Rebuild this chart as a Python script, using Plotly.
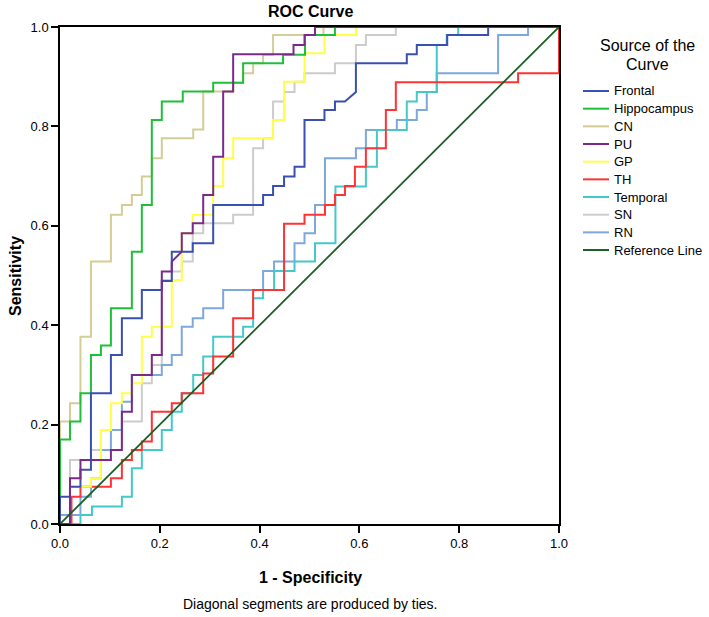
import plotly.graph_objects as go

# ---------------- DATA (1 - Specificity, Sensitivity) ----------------
series_names = ["Frontal", "Hippocampus", "CN", "PU", "GP", "TH", "Temporal", "SN", "RN"]

frontal_fpr = [0, 0, 0.02, 0.02, 0.041, 0.041, 0.062, 0.062, 0.102, 0.102, 0.124, 0.124, 0.164, 0.164,
               0.204, 0.204, 0.224, 0.224, 0.266, 0.266, 0.307, 0.307, 0.407, 0.407, 0.427, 0.427, 0.449,
               0.449, 0.47, 0.47, 0.49, 0.49, 0.53, 0.53, 0.551, 0.551, 0.571, 0.593, 0.593, 0.695, 0.695,
               0.715, 0.715, 0.776, 0.776, 0.858, 0.858, 1]
frontal_tpr = [0, 0.055, 0.055, 0.075, 0.075, 0.109, 0.109, 0.263, 0.263, 0.34, 0.34, 0.414, 0.414, 0.471,
               0.471, 0.489, 0.489, 0.548, 0.548, 0.565, 0.565, 0.642, 0.642, 0.662, 0.662, 0.68, 0.68,
               0.699, 0.699, 0.719, 0.719, 0.813, 0.813, 0.833, 0.833, 0.85, 0.85, 0.869, 0.927, 0.927, 0.945,
               0.945, 0.964, 0.964, 0.984, 0.984, 1, 1]

hippo_fpr = [0, 0, 0.02, 0.02, 0.041, 0.041, 0.062, 0.062, 0.082, 0.082, 0.102, 0.102, 0.144, 0.144, 0.164,
             0.164, 0.184, 0.184, 0.204, 0.204, 0.246, 0.246, 0.307, 0.307, 0.367, 0.367, 0.447, 0.447,
             0.491, 0.491, 0.551, 0.551, 1]
hippo_tpr = [0, 0.17, 0.17, 0.206, 0.206, 0.263, 0.263, 0.34, 0.34, 0.359, 0.359, 0.434, 0.434, 0.548, 0.548,
             0.642, 0.642, 0.813, 0.813, 0.85, 0.85, 0.87, 0.87, 0.888, 0.888, 0.927, 0.927, 0.944,
             0.944, 0.984, 0.984, 1, 1]

cn_fpr = [0, 0, 0.02, 0.02, 0.041, 0.041, 0.062, 0.062, 0.102, 0.102, 0.124, 0.124, 0.144, 0.144, 0.164, 0.164,
          0.184, 0.184, 0.204, 0.204, 0.267, 0.267, 0.287, 0.287, 0.347, 0.347, 0.367, 0.367, 0.387, 0.387,
          0.407, 0.407, 0.427, 0.427, 0.528, 0.528, 1]
cn_tpr = [0, 0.206, 0.206, 0.243, 0.243, 0.377, 0.377, 0.528, 0.528, 0.622, 0.622, 0.642, 0.642, 0.662, 0.662,
          0.699, 0.699, 0.736, 0.736, 0.776, 0.776, 0.794, 0.794, 0.87, 0.87, 0.888, 0.888, 0.907, 0.907, 0.927,
          0.927, 0.944, 0.944, 0.984, 0.984, 1, 1]

pu_fpr = [0, 0.02, 0.02, 0.041, 0.041, 0.102, 0.102, 0.124, 0.124, 0.144, 0.144, 0.184, 0.184, 0.204, 0.204,
          0.224, 0.224, 0.244, 0.244, 0.266, 0.266, 0.287, 0.287, 0.307, 0.307, 0.327, 0.327, 0.347, 0.347,
          0.468, 0.468, 0.49, 0.49, 0.511, 0.511, 1]
pu_tpr = [0, 0, 0.092, 0.092, 0.129, 0.129, 0.149, 0.149, 0.226, 0.226, 0.30, 0.30, 0.34, 0.34, 0.508,
          0.508, 0.528, 0.548, 0.585, 0.585, 0.605, 0.605, 0.662, 0.662, 0.739, 0.739, 0.87, 0.87, 0.945,
          0.945, 0.964, 0.964, 0.984, 0.984, 1, 1]

gp_fpr = [0, 0.02, 0.02, 0.062, 0.062, 0.082, 0.082, 0.102, 0.102, 0.124, 0.124, 0.144, 0.144, 0.164, 0.164,
          0.184, 0.184, 0.224, 0.224, 0.244, 0.244, 0.266, 0.266, 0.307, 0.307, 0.327, 0.327, 0.347, 0.347,
          0.427, 0.427, 0.449, 0.449, 0.49, 0.49, 0.53, 0.53, 0.593, 0.593, 1]
gp_tpr = [0, 0, 0.075, 0.075, 0.092, 0.092, 0.189, 0.189, 0.243, 0.243, 0.263, 0.263, 0.283, 0.283, 0.377,
          0.377, 0.397, 0.397, 0.491, 0.491, 0.585, 0.585, 0.622, 0.622, 0.68, 0.68, 0.736, 0.736, 0.776,
          0.776, 0.813, 0.813, 0.89, 0.89, 0.947, 0.947, 0.984, 0.984, 1, 1]

th_fpr = [0, 0.023, 0.023, 0.041, 0.041, 0.102, 0.102, 0.124, 0.124, 0.144, 0.144, 0.164, 0.164, 0.184, 0.184,
          0.224, 0.224, 0.244, 0.244, 0.287, 0.287, 0.307, 0.307, 0.347, 0.347, 0.387, 0.387, 0.449, 0.449,
          0.49, 0.49, 0.531, 0.531, 0.551, 0.551, 0.571, 0.571, 0.591, 0.591, 0.613, 0.613, 0.653, 0.653,
          0.673, 0.673, 0.918, 0.918, 1, 1]
th_tpr = [0, 0, 0.055, 0.055, 0.075, 0.075, 0.092, 0.092, 0.129, 0.129, 0.149, 0.149, 0.166, 0.166, 0.226,
          0.226, 0.243, 0.243, 0.263, 0.263, 0.303, 0.303, 0.337, 0.337, 0.414, 0.414, 0.471, 0.471, 0.604,
          0.604, 0.622, 0.622, 0.642, 0.642, 0.662, 0.662, 0.68, 0.68, 0.719, 0.719, 0.756, 0.756, 0.833,
          0.833, 0.889, 0.889, 0.907, 0.907, 1]

temporal_fpr = [0, 0.041, 0.041, 0.064, 0.064, 0.124, 0.124, 0.144, 0.144, 0.164, 0.164, 0.204, 0.204, 0.224,
                0.224, 0.244, 0.244, 0.267, 0.267, 0.287, 0.287, 0.307, 0.307, 0.367, 0.367, 0.387, 0.387,
                0.407, 0.407, 0.429, 0.429, 0.47, 0.47, 0.511, 0.511, 0.552, 0.552, 0.613, 0.613, 0.635,
                0.635, 0.695, 0.695, 0.715, 0.715, 0.755, 0.755, 0.775, 0.775, 0.798, 0.798, 1]
temporal_tpr = [0, 0, 0.018, 0.018, 0.035, 0.035, 0.055, 0.055, 0.112, 0.112, 0.149, 0.149, 0.189, 0.189,
                0.226, 0.226, 0.263, 0.263, 0.30, 0.30, 0.337, 0.337, 0.377, 0.377, 0.397, 0.397, 0.454,
                0.454, 0.471, 0.471, 0.509, 0.509, 0.528, 0.528, 0.565, 0.565, 0.679, 0.679, 0.719, 0.719,
                0.793, 0.793, 0.85, 0.85, 0.869, 0.869, 0.964, 0.964, 0.984, 0.984, 1, 1]

sn_fpr = [0, 0.02, 0.02, 0.062, 0.062, 0.124, 0.124, 0.164, 0.164, 0.184, 0.184, 0.204, 0.204, 0.224, 0.224,
          0.244, 0.244, 0.266, 0.266, 0.287, 0.287, 0.347, 0.347, 0.387, 0.387, 0.407, 0.407, 0.427, 0.427,
          0.449, 0.449, 0.47, 0.47, 0.49, 0.49, 0.551, 0.551, 0.593, 0.593, 0.613, 0.613, 0.673, 0.673, 1]
sn_tpr = [0, 0, 0.129, 0.129, 0.149, 0.149, 0.206, 0.206, 0.283, 0.283, 0.32, 0.32, 0.491, 0.491, 0.508,
          0.508, 0.528, 0.528, 0.585, 0.585, 0.605, 0.605, 0.622, 0.622, 0.756, 0.756, 0.776, 0.776, 0.85,
          0.85, 0.869, 0.869, 0.89, 0.89, 0.907, 0.907, 0.927, 0.927, 0.964, 0.964, 0.984, 0.984, 1, 1]

rn_fpr = [0, 0, 0.041, 0.041, 0.062, 0.062, 0.082, 0.082, 0.102, 0.102, 0.124, 0.124, 0.144, 0.144, 0.204,
          0.204, 0.224, 0.224, 0.244, 0.244, 0.266, 0.266, 0.287, 0.287, 0.327, 0.327, 0.407, 0.407, 0.429,
          0.429, 0.47, 0.47, 0.49, 0.49, 0.511, 0.511, 0.531, 0.531, 0.593, 0.593, 0.613, 0.613, 0.675,
          0.675, 0.715, 0.715, 0.735, 0.735, 0.755, 0.755, 0.878, 0.878, 0.938, 0.938, 1]
rn_tpr = [0, 0.018, 0.018, 0.055, 0.055, 0.092, 0.092, 0.149, 0.149, 0.189, 0.189, 0.246, 0.246, 0.30, 0.30,
          0.32, 0.32, 0.34, 0.34, 0.397, 0.397, 0.414, 0.414, 0.434, 0.434, 0.471, 0.471, 0.509, 0.509,
          0.528, 0.528, 0.565, 0.565, 0.585, 0.585, 0.642, 0.642, 0.736, 0.736, 0.756, 0.756, 0.793, 0.793,
          0.813, 0.813, 0.833, 0.833, 0.869, 0.869, 0.907, 0.907, 0.984, 0.984, 1, 1]

reference_fpr = [0, 1]
reference_tpr = [0, 1]

tick_values = [0, 0.2, 0.4, 0.6, 0.8, 1.0]
tick_labels = ["0.0", "0.2", "0.4", "0.6", "0.8", "1.0"]

# ---------------- STYLE ----------------
colors = {
    "Frontal": "#3a50b0",
    "Hippocampus": "#1fbf3a",
    "CN": "#d3cd96",
    "PU": "#7b2a8c",
    "GP": "#ffff4a",
    "TH": "#ff3333",
    "Temporal": "#45c8c8",
    "SN": "#cccccc",
    "RN": "#7da8dc",
    "Reference Line": "#1b5e26",
}

curves = [
    ("Frontal", frontal_fpr, frontal_tpr),
    ("Hippocampus", hippo_fpr, hippo_tpr),
    ("CN", cn_fpr, cn_tpr),
    ("PU", pu_fpr, pu_tpr),
    ("GP", gp_fpr, gp_tpr),
    ("TH", th_fpr, th_tpr),
    ("Temporal", temporal_fpr, temporal_tpr),
    ("SN", sn_fpr, sn_tpr),
    ("RN", rn_fpr, rn_tpr),
    ("Reference Line", reference_fpr, reference_tpr),
]

W, H = 709, 617
L, R, T, B = 60, 559, 27, 524  # plot area in page pixels


def px_x(p):
    return (p - L) / (R - L)


def px_y(p):
    return (B - p) / (B - T)


FONT = "Liberation Sans, Arial, sans-serif"

fig = go.Figure()
draw_order = ["SN", "RN", "Temporal", "TH", "GP", "CN", "Hippocampus", "Frontal", "PU", "Reference Line"]
cdict = {n: (x, y) for n, x, y in curves}
for name in draw_order:
    x, y = cdict[name]
    fig.add_trace(go.Scatter(x=x, y=y, mode="lines", name=name, showlegend=False,
                             line=dict(color=colors[name], width=2 if name != "Reference Line" else 1.8)))


def ann(text, xp, yp, size, xanchor="center", angle=0):
    return dict(text=text, x=px_x(xp), y=px_y(yp), xref="paper", yref="paper",
                xanchor=xanchor, yanchor="middle", textangle=angle, showarrow=False,
                font=dict(size=size, color="black", family=FONT))


annotations = [
    ann("<b>ROC Curve</b>", 310, 11, 16),
    ann("<b>Sensitivity</b>", 15, 276, 16, angle=-90),
    ann("<b>1 - Specificity</b>", 310, 577, 16),
    ann("Diagonal segments are produced by ties.", 310, 604, 14),
    ann("Source of the", 647, 45, 16),
    ann("Curve", 647, 64, 16),
]
shapes = []
legend_names = [n for n, _, _ in curves]
for i, name in enumerate(legend_names):
    yy = 91 + i * 17.67
    shapes.append(dict(type="line", xref="paper", yref="paper", x0=px_x(583), x1=px_x(609),
                       y0=px_y(yy), y1=px_y(yy), line=dict(color=colors[name], width=2)))
    annotations.append(ann(name, 612, yy, 13, xanchor="left"))

axis_common = dict(range=[0, 1], showgrid=False, zeroline=False, showline=True, linecolor="black",
                   linewidth=1.5, mirror=True, ticks="outside", ticklen=7, tickwidth=1.5, tickcolor="black",
                   tickvals=tick_values, ticktext=tick_labels,
                   tickfont=dict(size=13, color="black", family=FONT))

fig.update_layout(
    width=W, height=H, autosize=False,
    margin=dict(l=L, r=W - R, t=T, b=H - B, pad=0),
    paper_bgcolor="white", plot_bgcolor="white",
    xaxis=axis_common, yaxis=axis_common,
    annotations=annotations, shapes=shapes,
    font=dict(family=FONT),
)

fig.write_html("out.html", config={"displayModeBar": False},
               post_script="document.body.style.margin='0';document.body.style.overflow='hidden';")
